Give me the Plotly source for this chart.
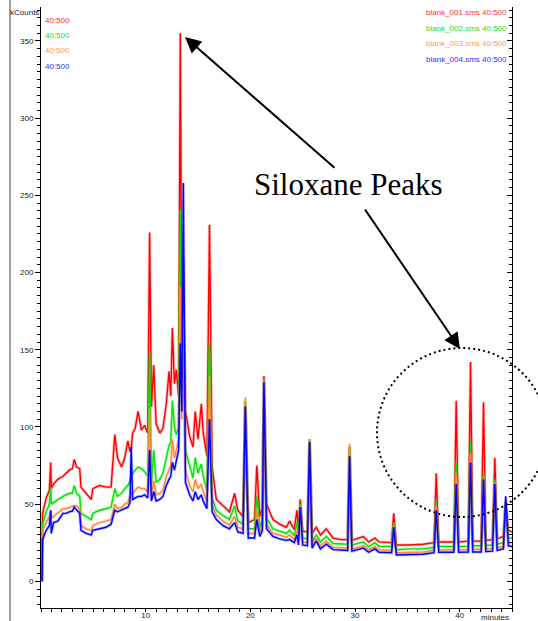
import plotly.graph_objects as go

# retention time (minutes)
minutes = [0.10, 0.15, 0.50, 0.80, 0.93, 0.98, 1.20, 1.60, 2.10, 2.40,
           2.70, 3.00, 3.18, 3.40, 3.70, 3.82, 4.30, 4.80, 4.95, 5.60,
           6.20, 6.70, 7.05, 7.30, 7.70, 8.00, 8.30, 8.50, 8.62, 8.75,
           9.00, 9.27, 9.60, 9.90, 10.20, 10.38, 10.55, 10.77, 11.00, 11.35,
           11.65, 11.97, 12.23, 12.40, 12.55, 12.75, 12.93, 13.15, 13.31, 13.45,
           13.60, 13.80, 14.20, 14.52, 14.74, 15.00, 15.32, 15.50, 15.85, 16.10,
           16.35, 16.75, 17.40, 18.00, 18.50, 18.80, 19.30, 19.52, 19.80, 20.40,
           20.62, 20.90, 21.15, 21.30, 21.55, 22.16, 22.80, 23.44, 23.75, 24.20,
           24.45, 24.60, 24.77, 25.00, 25.45, 25.66, 25.90, 26.30, 26.70, 27.26,
           27.90, 28.70, 29.30, 29.48, 29.70, 30.80, 31.30, 31.90, 32.30, 33.50,
           33.70, 33.95, 35.20, 36.50, 37.55, 37.76, 38.00, 39.45, 39.67, 39.90,
           40.82, 41.04, 41.25, 42.06, 42.28, 42.50, 43.14, 43.36, 43.58, 44.18,
           44.40, 44.65, 45.00]

# kCounts, blank_001.sms 40:500 (red)
blank_001 = [0, 44, 54, 59, 77, 60, 63, 66, 68, 70,
             72, 73, 79, 74, 73, 61, 57, 53, 60, 62,
             61, 61, 95, 80, 74, 80, 91, 84, 86, 96,
             99, 110, 98, 101, 96, 226, 113, 140, 102, 96,
             99, 115, 136, 120, 164, 128, 137, 120, 355, 150,
             210, 110, 94, 87, 110, 92, 115, 96, 81, 231,
             74, 53, 49, 45, 57, 46, 42, 116, 38, 40,
             75, 42, 48, 133, 50, 40, 37, 35, 39, 33.5,
             46, 34, 53, 32.5, 32, 92, 31, 35, 30, 34,
             28, 27, 27, 87, 26.5, 29, 25.5, 28, 25.5, 25,
             44, 23.5, 23.5, 24, 25, 70, 25.5, 25.5, 117, 25.5,
             26, 142, 26, 26, 116, 26.5, 27, 80, 27.5, 29,
             50, 33, 32]

# blank_002.sms 40:500 (green)
blank_002 = [0, 37, 45, 50, 61, 50, 51, 53, 55, 56,
             57, 57, 62, 57, 55, 44, 42, 40, 44, 46,
             47, 48, 60, 55, 57, 60, 62, 65, 68, 70,
             72, 74, 73, 71, 68, 148, 63, 85, 64, 66,
             70, 80, 88, 90, 117, 100, 95, 100, 241, 115,
             160, 85, 74, 67, 80, 70, 76, 68, 59, 154,
             54, 46, 42.5, 40, 49, 39, 37, 117, 34, 34,
             55, 35, 40, 131, 41, 34, 32.5, 31, 33, 29.5,
             38, 29, 50, 28, 27.5, 92, 26, 30, 25.5, 29,
             24.5, 24, 24, 87, 23.5, 25.5, 22.5, 25, 22.5, 22.5,
             38, 20.5, 21, 21, 22, 52, 22.5, 22.5, 77, 22.5,
             22.8, 90, 23, 23, 70, 23.2, 23.5, 66, 24, 25,
             51, 28, 28]

# blank_003.sms 40:500 (orange)
blank_003 = [0, 33, 38, 42, 46, 41, 42, 44, 47, 47,
             48, 48.5, 49, 49, 47, 36, 34, 33, 36, 38,
             39, 40, 50, 47, 48, 50, 51, 55, 57, 57,
             59, 61, 60, 60, 58, 112, 56, 65, 56, 57,
             59, 68, 72, 75, 92, 80, 85, 92, 191, 105,
             170, 72, 62, 58, 66, 60, 63, 58, 52, 133,
             49, 43, 39, 36.5, 42, 35, 34, 119, 31, 31,
             46, 32, 36, 130, 37, 31, 30, 28.5, 30, 27,
             33, 26, 49, 25.5, 25, 92, 23.5, 28, 23, 26,
             22, 21.5, 21.5, 89, 21, 23, 20.5, 22.5, 20.4, 20,
             36, 18.5, 18.8, 19, 20, 49, 20.4, 20.4, 70, 20.4,
             20.6, 83, 20.8, 20.8, 68, 21, 21.2, 64, 21.8, 22.5,
             52, 25, 25]

# blank_004.sms 40:500 (blue)
blank_004 = [0, 27, 33, 36, 46, 31, 38, 39, 44, 44,
             45, 45.5, 48, 46, 44, 33, 31, 30, 33, 34,
             35, 37, 46, 45, 46, 47, 48, 51, 87, 53,
             54, 55, 55, 56, 54, 85, 52, 58, 52, 53,
             55, 62, 66, 68, 77, 72, 78, 85, 154, 110,
             258, 64, 56, 52, 58, 53, 56, 52, 47, 105,
             45, 40, 36, 34, 38, 32, 31, 113, 28, 28,
             40, 29, 33, 129, 34, 29, 27.5, 26.5, 27, 25,
             30, 23.5, 48, 23.5, 23, 90, 21.5, 26, 21, 24,
             20.5, 20, 20, 81, 19.5, 21.5, 18.8, 21, 18.8, 18.5,
             35, 17, 17.3, 17.5, 18.5, 46, 18.8, 18.8, 63, 18.8,
             19, 77, 19, 19, 66, 19.3, 19.5, 63, 20, 21,
             55, 23, 22.5]

series_names = ["blank_001.sms 40:500", "blank_002.sms 40:500",
                "blank_003.sms 40:500", "blank_004.sms 40:500"]
series_short = ["40:500", "40:500", "40:500", "40:500"]
line_colors = ["#ff0000", "#00e600", "#ff8a33", "#0000ff"]
label_colors = ["#ff3030", "#20e020", "#ff9a50", "#3030ff"]

y_ticks = [0, 50, 100, 150, 200, 250, 300, 350]
x_ticks = [10, 20, 30, 40]

W, H = 538, 621
ML, MR, MT, MB = 41, 26, 7, 13
PW, PH = W - ML - MR, H - MT - MB


def px(x):
    return (x - ML) / PW


def py(y):
    return (H - MB - y) / PH


fig = go.Figure()
for name, vals, col in zip(series_names, [blank_001, blank_002, blank_003, blank_004], line_colors):
    # soft band to mimic the noisy trace, then the core line
    fig.add_trace(go.Scatter(x=minutes, y=vals, mode="lines", name=name,
                             line=dict(color=col, width=3), opacity=0.25,
                             showlegend=False, hoverinfo="skip"))
    fig.add_trace(go.Scatter(x=minutes, y=vals, mode="lines", name=name,
                             line=dict(color=col, width=1.4), showlegend=False))

# dummy trace to activate the mirrored right axis
fig.add_trace(go.Scatter(x=[0], y=[0], yaxis="y2", mode="markers",
                         marker=dict(opacity=0), showlegend=False, hoverinfo="skip"))

tickfont = dict(family="Liberation Sans, Arial", size=8, color="#222")
yrange = [-17.3, 372]

fig.update_layout(
    width=W, height=H, autosize=False,
    margin=dict(l=ML, r=MR, t=MT, b=MB, autoexpand=False),
    paper_bgcolor="white", plot_bgcolor="white",
    xaxis=dict(range=[0, 45], showline=True, linecolor="black", linewidth=1,
               ticks="outside", ticklen=3, tickcolor="black", tickvals=x_ticks,
               ticklabelstandoff=-4,
               minor=dict(dtick=1, tick0=0, ticks="outside", ticklen=3, tickcolor="black"),
               showgrid=False, zeroline=False, tickfont=tickfont),
    yaxis=dict(range=yrange, showline=True, linecolor="black", linewidth=1,
               ticks="outside", ticklen=5, tickcolor="black", tickvals=y_ticks,
               minor=dict(dtick=5, tick0=0, ticks="outside", ticklen=3, tickcolor="black"),
               showgrid=False, zeroline=False, tickfont=tickfont),
    yaxis2=dict(range=yrange, overlaying="y", side="right", showline=True,
                linecolor="black", linewidth=1, ticks="inside", ticklen=5,
                tickcolor="black", tickvals=y_ticks, showticklabels=False,
                minor=dict(dtick=5, tick0=0, ticks="inside", ticklen=3, tickcolor="black"),
                showgrid=False, zeroline=False),
)

ann = []
lab_font = "Liberation Sans, Arial"
left_y = [20.7, 35.7, 50.7, 66]
right_y = [13, 29, 43.5, 59]
for i in range(4):
    ann.append(dict(x=px(43), y=py(left_y[i]), xref="paper", yref="paper",
                    text=series_short[i], showarrow=False, xanchor="left", yanchor="middle",
                    font=dict(family=lab_font, size=8, color=label_colors[i])))
    ann.append(dict(x=px(509), y=py(right_y[i]), xref="paper", yref="paper",
                    text=series_names[i], showarrow=False, xanchor="right", yanchor="middle",
                    font=dict(family=lab_font, size=8, color=label_colors[i])))

ann.append(dict(x=px(41), y=py(12.5), xref="paper", yref="paper", text="kCounts",
                showarrow=False, xanchor="right", yanchor="middle",
                font=dict(family=lab_font, size=8, color="#222")))
ann.append(dict(x=px(495), y=py(617), xref="paper", yref="paper", text="minutes",
                showarrow=False, xanchor="center", yanchor="middle",
                font=dict(family=lab_font, size=8, color="#222")))

ann.append(dict(x=px(348), y=py(185), xref="paper", yref="paper", text="Siloxane Peaks",
                showarrow=False, xanchor="center", yanchor="middle",
                font=dict(family="Liberation Serif, DejaVu Serif, serif", size=31, color="black")))

# arrows
ann.append(dict(x=px(185), y=py(37), xref="paper", yref="paper", text="",
                showarrow=True, ax=151, ay=132, arrowhead=2, arrowsize=1.6,
                arrowwidth=2, arrowcolor="black", standoff=0))
ann.append(dict(x=px(460), y=py(349), xref="paper", yref="paper", text="",
                showarrow=True, ax=-96, ay=-141, arrowhead=2, arrowsize=1.6,
                arrowwidth=2, arrowcolor="black", standoff=0))

fig.update_layout(annotations=ann)

fig.update_layout(shapes=[
    dict(type="circle", xref="paper", yref="paper",
         x0=px(377), x1=px(547), y0=py(517), y1=py(348),
         line=dict(color="black", width=2, dash="2px,3px")),
    dict(type="line", xref="paper", yref="paper",
         x0=px(10), x1=px(10), y0=py(0), y1=py(621),
         line=dict(color="#a0a0a0", width=2)),
])

fig.write_html("out.html", config={"displayModeBar": False},
               post_script="document.body.style.margin='0';document.body.style.overflow='hidden';")
